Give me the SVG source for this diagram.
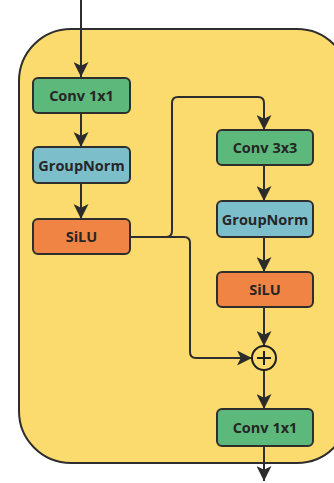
<svg xmlns="http://www.w3.org/2000/svg" width="334" height="483" viewBox="0 0 334 483">
  <defs>
    <marker id="arrowL" viewBox="0 0 10 10" refX="10" refY="5" markerWidth="15" markerHeight="15" markerUnits="userSpaceOnUse" orient="auto">
      <path d="M0,0 L10,5 L0,10 L2.5,5 Z" fill="#2b2b2b"/>
    </marker>
  </defs>
  <style>
    .box { stroke: #2e2e2e; stroke-width: 2; }
    .conv { fill: #5db97b; }
    .norm { fill: #7dbecb; }
    .act { fill: #f08444; }
    .lbl { font-family: "Open Sans", "Liberation Sans", sans-serif; font-weight: bold; font-size: 14.5px; fill: #262626; text-anchor: middle; dominant-baseline: central; }
    .wire { fill: none; stroke: #2e2e2e; stroke-width: 2; }
  </style>

  <rect width="334" height="483" fill="#ffffff"/>

  <!-- block container -->
  <rect id="container" x="19" y="29" width="330" height="434" rx="52" ry="52" fill="#fcdb6e" stroke="#2e2e2e" stroke-width="2"/>

  <g id="connectors">
    <path class="wire" d="M81,0 V77" marker-end="url(#arrowL)"/>
    <path class="wire" d="M81,113 V147" marker-end="url(#arrowL)"/>
    <path class="wire" d="M81,183 V219" marker-end="url(#arrowL)"/>
    <!-- branch into the residual path -->
    <path class="wire" d="M130,237 H166 Q172,237 172,231 V103 Q172,97 178,97 H258 Q264,97 264,103 V130" marker-end="url(#arrowL)"/>
    <!-- skip connection -->
    <path class="wire" d="M166,237 H184 Q190,237 190,243 V352 Q190,358 196,358 H252" marker-end="url(#arrowL)"/>
    <path class="wire" d="M264,165 V201" marker-end="url(#arrowL)"/>
    <path class="wire" d="M264,237 V272" marker-end="url(#arrowL)"/>
    <path class="wire" d="M264,307 V346" marker-end="url(#arrowL)"/>
    <path class="wire" d="M264,370 V409" marker-end="url(#arrowL)"/>
    <path class="wire" d="M264,446 V481" marker-end="url(#arrowL)"/>
  </g>

  <g id="conv1x1_in">
    <rect class="box conv" x="33" y="78" width="97" height="35" rx="5"/>
    <text class="lbl" x="81.5" y="95.5">Conv 1x1</text>
  </g>
  <g id="groupnorm_1">
    <rect class="box norm" x="33" y="147" width="97" height="36" rx="5"/>
    <text class="lbl" x="81.5" y="165">GroupNorm</text>
  </g>
  <g id="silu_1">
    <rect class="box act" x="33" y="219" width="97" height="35" rx="5"/>
    <text class="lbl" x="81.5" y="236.5">SiLU</text>
  </g>
  <g id="conv3x3">
    <rect class="box conv" x="217" y="130" width="96" height="35" rx="5"/>
    <text class="lbl" x="265" y="147.5">Conv 3x3</text>
  </g>
  <g id="groupnorm_2">
    <rect class="box norm" x="217" y="201" width="96" height="36" rx="5"/>
    <text class="lbl" x="265" y="219">GroupNorm</text>
  </g>
  <g id="silu_2">
    <rect class="box act" x="217" y="272" width="96" height="35" rx="5"/>
    <text class="lbl" x="265" y="289.5">SiLU</text>
  </g>
  <g id="add">
    <circle cx="264" cy="358" r="12" fill="#fcdb6e" stroke="#1e1e1e" stroke-width="2"/>
    <path d="M257,358 H271 M264,351 V365" stroke="#1e1e1e" stroke-width="2" fill="none"/>
  </g>
  <g id="conv1x1_out">
    <rect class="box conv" x="217" y="409" width="96" height="37" rx="5"/>
    <text class="lbl" x="265" y="427.5">Conv 1x1</text>
  </g>
</svg>
